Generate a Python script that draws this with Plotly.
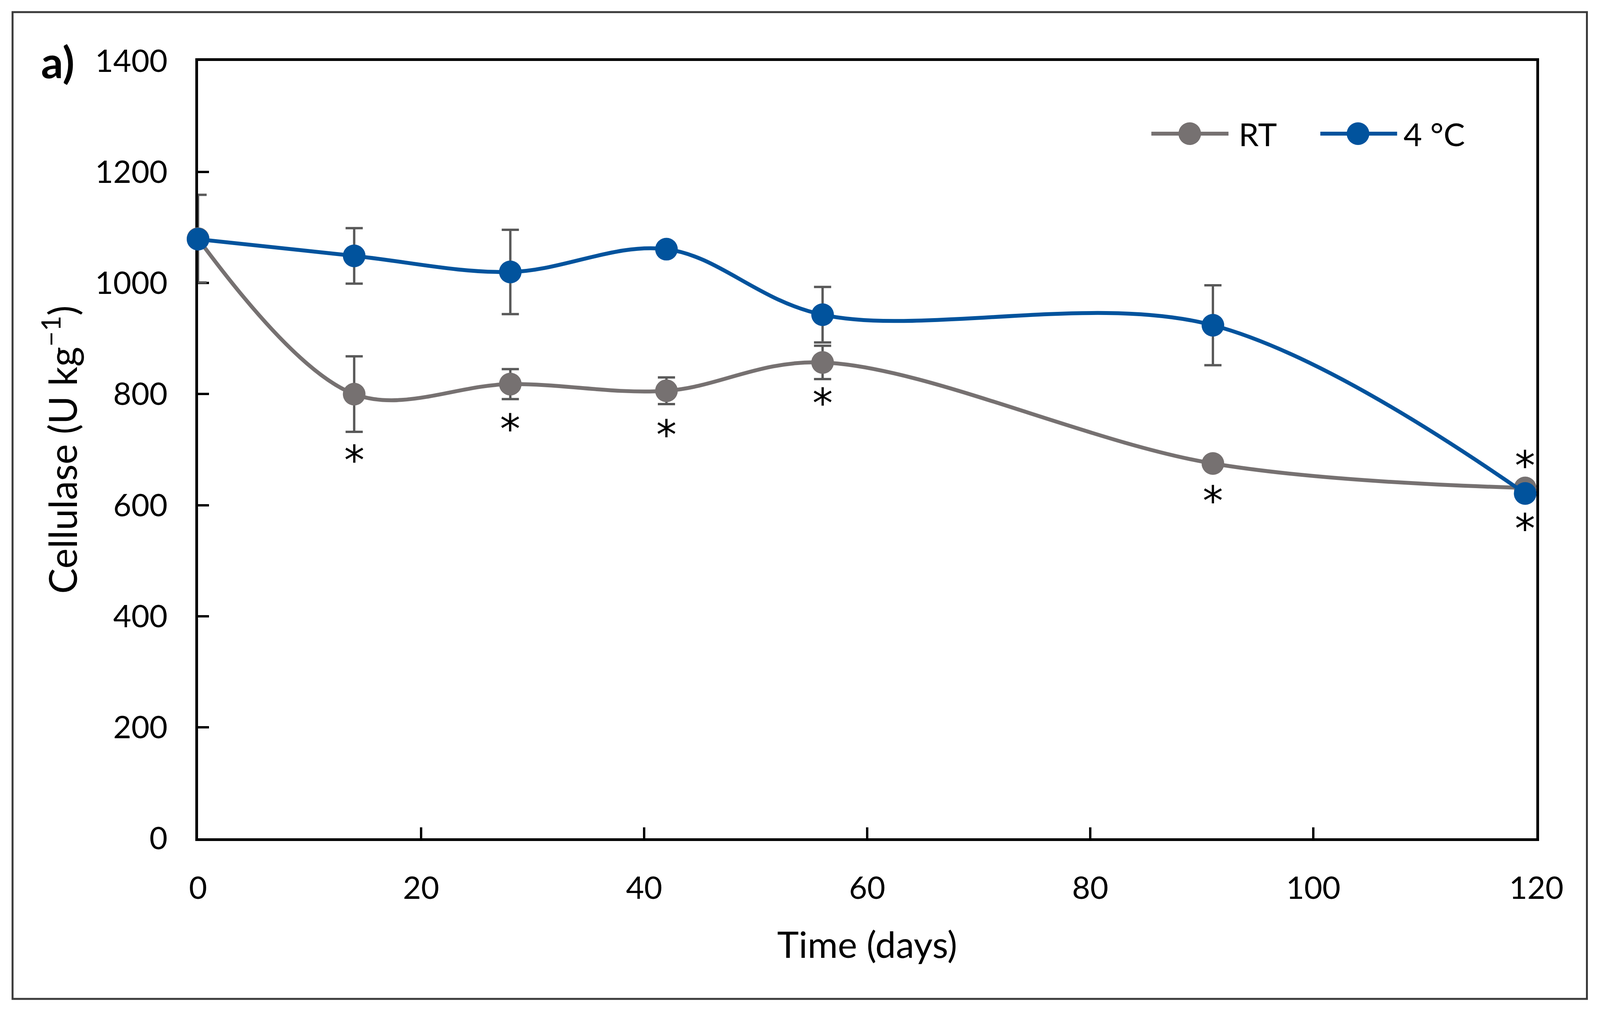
import plotly.graph_objects as go

# ---------------- data ----------------
days = [0, 14, 28, 42, 56, 91, 119]
rt_mean = [1080, 800, 818, 806, 857, 675, 631]
rt_err = [79, 68, 27, 24, 30, 0, 0]
cold_mean = [1079, 1049, 1020, 1061, 943, 924, 621]
cold_err = [0, 50, 76, 0, 50, 72, 0]
series_names = ["RT", "4 °C"]
star_days = [14, 28, 42, 56, 91, 119, 119]
star_values = [699, 755, 745, 802, 626, 689, 576]
x_ticks = [0, 20, 40, 60, 80, 100, 120]
y_ticks = [0, 200, 400, 600, 800, 1000, 1200, 1400]

# ---------------- geometry ----------------
# the browser viewport is 4096 px wide; the page body has an 8 px margin
VIEW_W = 4096
REF_W = 4460
KX = VIEW_W / REF_W
OFF = 8
W, H = VIEW_W - 2 * OFF, 2610 - 2 * OFF


def fx(ref_px):
    return ref_px * KX - OFF


def fy(ref_py):
    return ref_py - OFF


PL, PR, PT, PB = fx(552), fx(4282), fy(156), fy(2145)
ML, MR, MT, MB = PL, W - PR, PT, H - PB
PW, PH = PR - PL, PB - PT

FONT = "Lato"
C_RT = "#767171"
C_COLD = "#01539D"
C_ERR = "#595959"


def px_x(ref_px):
    return (fx(ref_px) - PL) / PW


def px_y(ref_py):
    return (PB - fy(ref_py)) / PH


fig = go.Figure()

# error bars (clipped to the plot area, drawn below the markers)
for mean, err in [(rt_mean, rt_err), (cold_mean, cold_err)]:
    fig.add_trace(go.Scatter(
        x=days, y=mean, mode="markers",
        marker=dict(size=1, color="rgba(0,0,0,0)"),
        error_y=dict(type="data", array=err, visible=True, color=C_ERR,
                     thickness=6, width=22),
        cliponaxis=True, showlegend=False, hoverinfo="skip"))

for name, mean, col in [(series_names[0], rt_mean, C_RT),
                        (series_names[1], cold_mean, C_COLD)]:
    fig.add_trace(go.Scatter(
        x=days, y=mean, name=name, mode="lines+markers",
        line=dict(color=col, width=10, shape="spline", smoothing=1.0),
        marker=dict(color=col, size=58, line=dict(width=0)),
        cliponaxis=False, showlegend=False))

annotations = []
for d, v in zip(star_days, star_values):
    annotations.append(dict(x=d, y=v, xref="x", yref="y", text="*",
                            showarrow=False, xanchor="center", yanchor="middle",
                            yshift=-26,
                            font=dict(family="DejaVu Sans", size=104, color="black")))

# panel label
annotations.append(dict(x=px_x(112), y=px_y(156), xref="paper", yref="paper",
                        text="<b>a)</b>", showarrow=False, xanchor="left",
                        yanchor="middle",
                        font=dict(family=FONT, size=112, color="black")))

# legend (drawn as shapes so the symbols keep the chart's sizes)
shapes = []
legend_items = [(series_names[0], C_RT, 3209, 3424, 3316, 3450),
                (series_names[1], C_COLD, 3680, 3894, 3785, 3910)]
LEG_Y = 342
for name, col, x1, x2, xc, xt in legend_items:
    shapes.append(dict(type="line", xref="paper", yref="paper",
                       x0=px_x(x1), x1=px_x(x2), y0=px_y(LEG_Y), y1=px_y(LEG_Y),
                       line=dict(color=col, width=10)))
    r = 29
    shapes.append(dict(type="circle", xref="paper", yref="paper",
                       x0=(fx(xc) - r - PL) / PW, x1=(fx(xc) + r - PL) / PW,
                       y0=(PB - fy(LEG_Y) - r) / PH, y1=(PB - fy(LEG_Y) + r) / PH,
                       fillcolor=col, line=dict(width=0)))
    annotations.append(dict(x=px_x(xt), y=px_y(LEG_Y), xref="paper", yref="paper",
                            text=name, showarrow=False, xanchor="left",
                            yanchor="middle",
                            font=dict(family=FONT, size=82, color="black")))

# outer frame
shapes.append(dict(type="rect", xref="paper", yref="paper",
                   x0=px_x(35), x1=px_x(4423), y0=px_y(2556), y1=px_y(31),
                   line=dict(color="#3a3a3a", width=5), layer="below"))

axis_common = dict(showgrid=False, zeroline=False, showline=True,
                   linecolor="black", linewidth=7, mirror=True,
                   ticks="inside", tickcolor="black", tickwidth=6, ticklen=28,
                   tickfont=dict(family=FONT, size=80, color="black"),
                   layer="below traces")

fig.update_layout(
    width=W, height=H,
    margin=dict(l=ML, r=MR, t=MT, b=MB, autoexpand=False),
    paper_bgcolor="white", plot_bgcolor="white",
    font=dict(family=FONT, color="black"),
    xaxis=dict(range=[0, 120], tickvals=x_ticks, ticklabelstandoff=52,
               title=dict(text="Time (days)", standoff=72,
                          font=dict(family=FONT, size=94, color="black")),
               **axis_common),
    yaxis=dict(range=[0, 1400], tickvals=y_ticks, ticklabelstandoff=55,
               title=dict(text="Cellulase (U kg<sup>−1</sup>)", standoff=16,
                          font=dict(family=FONT, size=98, color="black")),
               **axis_common),
    annotations=annotations,
    shapes=shapes,
    showlegend=False,
)

fig.write_html("out.html")
